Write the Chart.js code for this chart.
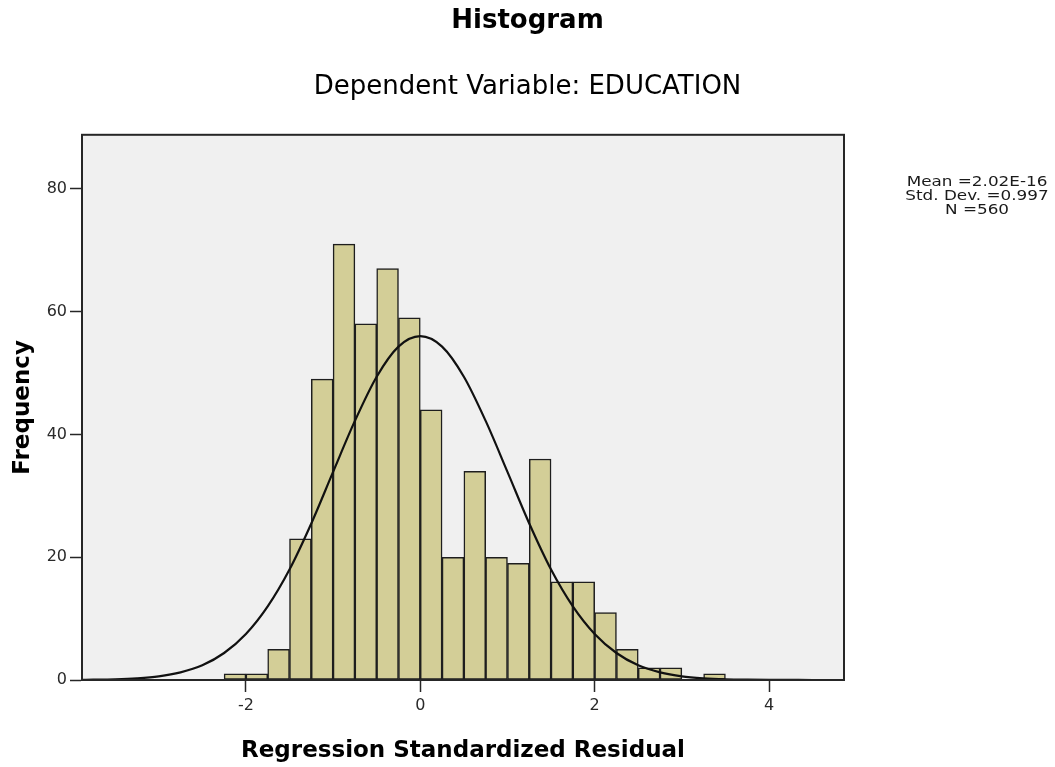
<!DOCTYPE html>
<html>
<head>
<meta charset="utf-8">
<script src="https://cdn.jsdelivr.net/npm/chart.js@4.4.1/dist/chart.umd.min.js"></script>
<style>
  html, body { margin: 0; padding: 0; background: #ffffff; }
  #wrap { width: 1055px; height: 767px; }
</style>
</head>
<body>
<div id="wrap"><canvas id="histChart" width="1055" height="767"></canvas></div>
<script>
// bins of width 0.25, left edges
var binStarts = [-2.25, -2.0, -1.75, -1.5, -1.25, -1.0, -0.75, -0.5, -0.25, 0.0, 0.25, 0.5,
                 0.75, 1.0, 1.25, 1.5, 1.75, 2.0, 2.25, 2.5, 2.75, 3.0, 3.25];
var binCounts = [1, 1, 5, 23, 49, 71, 58, 67, 59, 44, 20, 34,
                 20, 19, 36, 16, 16, 11, 5, 2, 2, 0, 1];
var binWidth = 0.25;

// normal curve
var curveX = [-3.88, -3.75, -3.5, -3.25, -3.0, -2.75, -2.5, -2.25, -2.0, -1.75, -1.5, -1.25,
              -1.0, -0.75, -0.5, -0.25, 0.0, 0.25, 0.5, 0.75, 1.0, 1.25, 1.5, 1.75,
              2.0, 2.25, 2.5, 2.75, 3.0, 3.25, 3.5, 3.75, 4.0, 4.25, 4.5, 4.86];
var curveY = [0.03, 0.05, 0.12, 0.28, 0.6, 1.25, 2.4, 4.4, 7.5, 12.0, 18.0, 25.5,
              33.9, 42.2, 49.4, 54.3, 56.0, 54.3, 49.4, 42.2, 33.9, 25.5, 18.0, 12.0,
              7.5, 4.4, 2.4, 1.25, 0.6, 0.28, 0.12, 0.05, 0.02, 0.01, 0.0, 0.0];

var xTickValues = [-2, 0, 2, 4];
var yTickValues = [0, 20, 40, 60, 80];
var statLines = ['Mean =2.02E-16', 'Std. Dev. =0.997', 'N =560'];

var FONT = '"DejaVu Sans", "Liberation Sans", Arial, sans-serif';

var barData = binStarts.map(function (s, i) {
    return { x: s + binWidth / 2, y: binCounts[i] };
});
var lineData = curveX.map(function (x, i) {
    return { x: x, y: curveY[i] };
});

const plotFrame = {
    id: 'plotFrame',
    beforeDatasetsDraw: function (chart) {
        const a = chart.chartArea;
        const ctx = chart.ctx;
        ctx.save();
        ctx.fillStyle = '#f0f0f0';
        ctx.fillRect(a.left, a.top, a.right - a.left, a.bottom - a.top);
        ctx.restore();
    },
    afterDraw: function (chart) {
        const a = chart.chartArea;
        const ctx = chart.ctx;
        ctx.save();
        ctx.strokeStyle = '#262626';
        ctx.lineWidth = 2;
        ctx.strokeRect(a.left, a.top, a.right - a.left, a.bottom - a.top);
        // stats block on the right (text is a bit wide in the original)
        ctx.fillStyle = '#1a1a1a';
        ctx.font = '14px ' + FONT;
        ctx.textAlign = 'center';
        ctx.textBaseline = 'middle';
        ctx.translate(977, 0);
        ctx.scale(1.2, 1);
        statLines.forEach(function (t, i) {
            ctx.fillText(t, 0, 182 + i * 14);
        });
        ctx.restore();
    }
};

const config = {
    type: 'bar',
    data: {
        datasets: [{
            type: 'line',
            data: lineData,
            borderColor: '#111',
            borderWidth: 2.2,
            pointRadius: 0,
            fill: false,
            cubicInterpolationMode: 'monotone',
            order: 0
        }, {
            type: 'bar',
            data: barData,
            backgroundColor: '#d3ce97',
            borderColor: '#1e1e1e',
            borderWidth: 1.5,
            borderSkipped: false,
            barPercentage: 1,
            categoryPercentage: 1,
            grouped: false,
            order: 1
        }]
    },
    options: {
        responsive: false,
        animation: false,
        layout: {
            padding: 0
        },
        plugins: {
            legend: { display: false },
            tooltip: { enabled: false },
            title: {
                display: true,
                text: 'Histogram',
                color: '#000',
                font: { family: FONT, size: 26, weight: 'bold' },
                padding: { top: 6, bottom: 0 }
            },
            subtitle: {
                display: true,
                text: 'Dependent Variable: EDUCATION',
                color: '#000',
                font: { family: FONT, size: 26 },
                padding: { top: 34, bottom: 32.4 }
            }
        },
        scales: {
            x: {
                type: 'linear',
                min: -3.88,
                max: 4.86,
                offset: false,
                afterBuildTicks: function (scale) {
                    scale.ticks = xTickValues.map(function (v) { return { value: v }; });
                },
                afterFit: function (scale) { scale.height = 87; },
                grid: {
                    offset: false,
                    drawOnChartArea: false,
                    drawTicks: true,
                    tickLength: 12,
                    tickColor: '#262626',
                    tickWidth: 1.5
                },
                border: { display: true, color: '#262626', width: 2 },
                ticks: {
                    color: '#2a2a2a',
                    padding: 4,
                    maxRotation: 0,
                    font: { family: FONT, size: 16 }
                },
                title: {
                    display: true,
                    text: 'Regression Standardized Residual',
                    color: '#000',
                    font: { family: FONT, size: 23, weight: 'bold' },
                    padding: { top: 0, bottom: 2 }
                }
            },
            y: {
                min: 0,
                max: 88.8,
                afterBuildTicks: function (scale) {
                    scale.ticks = yTickValues.map(function (v) { return { value: v }; });
                },
                afterFit: function (scale) { scale.width = 82; },
                grid: {
                    drawOnChartArea: false,
                    drawTicks: true,
                    tickLength: 12,
                    tickColor: '#262626',
                    tickWidth: 1.5
                },
                border: { display: true, color: '#262626', width: 2 },
                ticks: {
                    color: '#2a2a2a',
                    padding: 3,
                    font: { family: FONT, size: 16 }
                },
                title: {
                    display: true,
                    text: 'Frequency',
                    color: '#000',
                    font: { family: FONT, size: 23, weight: 'bold' },
                    padding: { top: 9, bottom: 4 }
                }
            },
            // empty space on the right where the stats sit
            side: {
                type: 'linear',
                position: 'right',
                display: true,
                grid: { display: false },
                border: { display: false },
                ticks: { display: false },
                afterFit: function (scale) { scale.width = 211; }
            }
        }
    },
    plugins: [plotFrame]
};

var myChart = new Chart(document.getElementById('histChart'), config);
</script>
</body>
</html>
